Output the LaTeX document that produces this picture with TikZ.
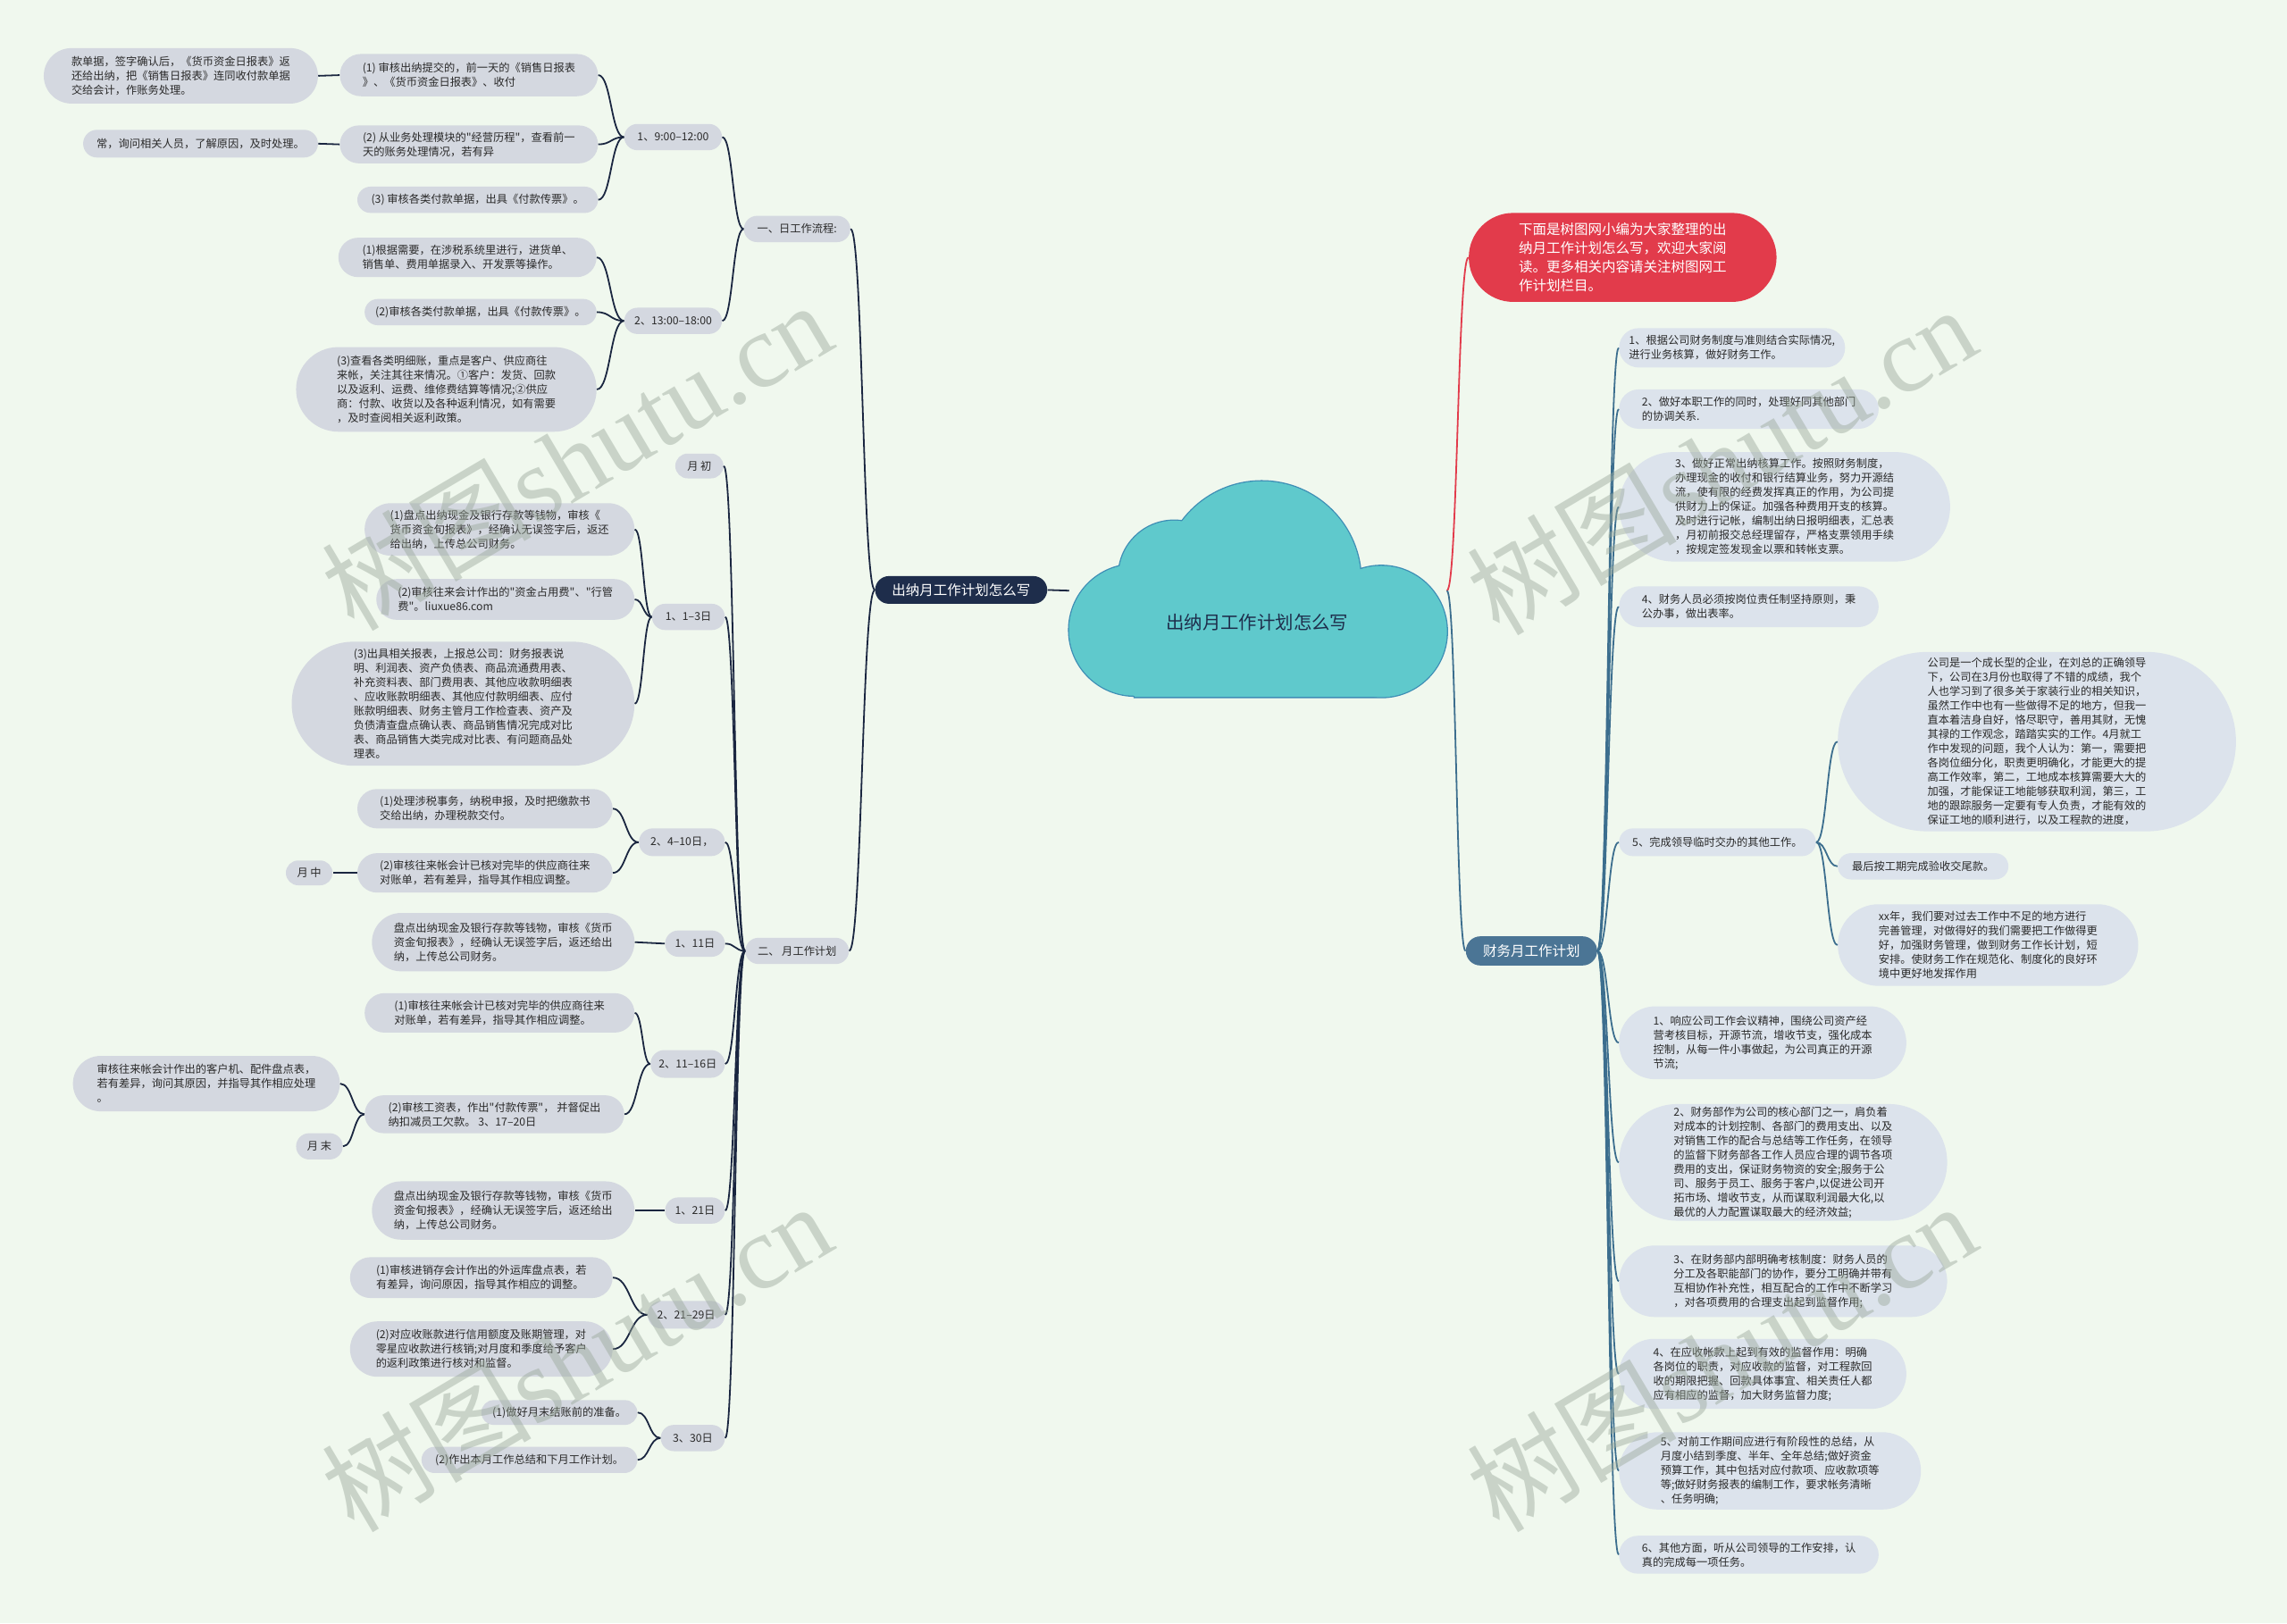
\documentclass[tikz,border=0pt]{standalone}
\usepackage{fontspec}
\newfontfamily\cjk{Noto Sans CJK SC}
\newfontfamily\wmserif{Liberation Serif}
\usetikzlibrary{calc}
\definecolor{bg}{HTML}{F0F8EE}
\definecolor{lgray}{HTML}{D4D8E0}
\definecolor{rgray}{HTML}{DCE3EC}
\definecolor{navy}{HTML}{1E2D4B}
\definecolor{steel}{HTML}{4B7595}
\definecolor{redn}{HTML}{E23B4B}
\definecolor{tealc}{HTML}{5FC9CC}
\definecolor{cborder}{HTML}{3E8EB5}
\definecolor{lline}{HTML}{1A2640}
\definecolor{rline}{HTML}{3C6E8E}
\definecolor{txt}{HTML}{2A2A2A}
\definecolor{wm}{HTML}{9AA89A}
\newcommand\bcurve[3][lk]{\draw[#1] let \p1=(#2), \p2=(#3) in (\p1) .. controls ({0.5*\x1+0.5*\x2},\y1) and ({0.5*\x1+0.5*\x2},\y2) .. (\p2);}
\begin{document}
\begin{tikzpicture}[x=1pt,y=-1pt,
 base/.style={font=\cjk\fontsize{7.5}{9.8}\selectfont, align=left, inner sep=0pt, text=txt},
 lb/.style 2 args={base, fill=lgray, minimum width=#1pt, minimum height=#2pt, rounded corners={#2*0.5pt}},
 rb/.style 2 args={base, fill=rgray, minimum width=#1pt, minimum height=#2pt, rounded corners={#2*0.5pt}},
 hb/.style 2 args={font=\cjk\fontsize{9.5}{13}\selectfont, align=left, inner sep=0pt, text=white, minimum width=#1pt, minimum height=#2pt, rounded corners={#2*0.5pt}},
 lk/.style={draw=lline, line width=1.1pt},
 rk/.style={draw=rline, line width=1.1pt},
 redk/.style={draw=redn, line width=1.1pt},
 wmark/.style={text=wm, opacity=0.45, rotate=30.6, inner sep=0pt}
]
\useasboundingbox (0,0) rectangle (1568,1113);
\fill[bg] (0,0) rectangle (1568,1113);

% cloud
\draw[cborder, line width=1.6pt] (778,432) circle[radius=45] (805,395) circle[radius=38] (865,398) circle[radius=68] (947,433) circle[radius=45] (778,430) rectangle (947,478);
\fill[tealc] (778,432) circle[radius=45];
\fill[tealc] (805,395) circle[radius=38];
\fill[tealc] (865,398) circle[radius=68];
\fill[tealc] (947,433) circle[radius=45];
\fill[tealc] (778,430) rectangle (947,478);
\node[font=\cjk\fontsize{12.5}{15}\selectfont, text=navy] (root) at (862,427) {出纳月工作计划怎么写};
\coordinate (cl) at (733,405);
\coordinate (cr) at (992,405);

% main nodes
\node[hb={118}{19}, fill=navy] (N0) at (659,404.5) {出纳月工作计划怎么写};
\node[hb={90}{20}, fill=steel] (N1) at (1050,652) {财务月工作计划};
\node[hb={211}{61}, fill=redn] (R0) at (1112.5,176.5) {下面是树图网小编为大家整理的出\\纳月工作计划怎么写，欢迎大家阅\\读。更多相关内容请关注树图网工\\作计划栏目。};

% left: daily
\node[lb={73}{18}] (D1) at (546.5,157) {一、日工作流程:};
\node[lb={67}{18}] (C1) at (461.5,94) {1、9:00–12:00};
\node[lb={67}{18}] (C2) at (461.5,220) {2、13:00–18:00};
\node[lb={177}{29}] (B1) at (321.5,51.5) {(1) 审核出纳提交的，前一天的《销售日报表\\》、《货币资金日报表》、收付};
\node[lb={188}{38}] (A1) at (124,52) {款单据，签字确认后，《货币资金日报表》返\\还给出纳，把《销售日报表》连同收付款单据\\交给会计，作账务处理。};
\node[lb={177}{26}] (B2) at (321.5,99) {(2) 从业务处理模块的"经营历程"，查看前一\\天的账务处理情况，若有异};
\node[lb={161}{19}] (A2) at (137.5,98.5) {常，询问相关人员，了解原因，及时处理。};
\node[lb={165}{18}] (B3) at (327.5,137) {(3) 审核各类付款单据，出具《付款传票》。};
\node[lb={177}{27}] (B4) at (320.5,176.5) {(1)根据需要，在涉税系统里进行，进货单、\\销售单、费用单据录入、开发票等操作。};
\node[lb={159}{18}] (B5) at (329.5,214) {(2)审核各类付款单据，出具《付款传票》。};
\node[lb={206}{58}] (B6) at (306,267) {(3)查看各类明细账，重点是客户、供应商往\\来帐，关注其往来情况。①客户：发货、回款\\以及返利、运费、维修费结算等情况;②供应\\商：付款、收货以及各种返利情况，如有需要\\，及时查阅相关返利政策。};

% left: monthly
\node[lb={71}{18}] (D2) at (546.5,652) {二、 月工作计划};
\node[lb={33}{17}] (M0) at (479.5,319.5) {月 初};
\node[lb={50}{18}] (C3) at (472,423) {1、1–3日};
\node[lb={185}{36}] (E1) at (342.5,363) {(1)盘点出纳现金及银行存款等钱物，审核《\\货币资金旬报表》，经确认无误签字后，返还\\给出纳，上传总公司财务。};
\node[lb={177}{28}] (E2) at (346.5,411) {(2)审核往来会计作出的"资金占用费"、"行管\\费"。liuxue86.com};
\node[lb={235}{85}] (E3) at (317.5,482.5) {(3)出具相关报表，上报总公司：财务报表说\\明、利润表、资产负债表、商品流通费用表、\\补充资料表、部门费用表、其他应收款明细表\\、应收账款明细表、其他应付款明细表、应付\\账款明细表、财务主管月工作检查表、资产及\\负债清查盘点确认表、商品销售情况完成对比\\表、商品销售大类完成对比表、有问题商品处\\理表。};
\node[lb={59}{19}] (C4) at (467.5,577.5) {2、4–10日，};
\node[lb={175}{27}] (E4) at (332.5,554.5) {(1)处理涉税事务，纳税申报，及时把缴款书\\交给出纳，办理税款交付。};
\node[lb={175}{27}] (E5) at (332.5,598.5) {(2)审核往来帐会计已核对完毕的供应商往来\\对账单，若有差异，指导其作相应调整。};
\node[lb={32}{17}] (L1) at (212,598.5) {月 中};
\node[lb={41}{18}] (C5) at (476.5,647) {1、11日};
\node[lb={180}{40}] (E6) at (345,646) {盘点出纳现金及银行存款等钱物，审核《货币\\资金旬报表》，经确认无误签字后，返还给出\\纳，上传总公司财务。};
\node[lb={51}{19}] (C6) at (471.5,729.5) {2、11–16日};
\node[lb={185}{27}] (E7) at (342.5,694.5) {(1)审核往来帐会计已核对完毕的供应商往来\\对账单，若有差异，指导其作相应调整。};
\node[lb={178}{26}] (E8) at (339,764) {(2)审核工资表，作出"付款传票"， 并督促出\\纳扣减员工欠款。 3、17–20日};
\node[lb={183}{38}] (L2) at (141.5,743) {审核往来帐会计作出的客户机、配件盘点表，\\若有差异，询问其原因，并指导其作相应处理\\。};
\node[lb={32}{18}] (L3) at (219,786) {月 末};
\node[lb={41}{18}] (C7) at (476.5,830) {1、21日};
\node[lb={180}{40}] (E9) at (345,830) {盘点出纳现金及银行存款等钱物，审核《货币\\资金旬报表》，经确认无误签字后，返还给出\\纳，上传总公司财务。};
\node[lb={53}{19}] (C8) at (470.5,901.5) {2、21–29日};
\node[lb={180}{28}] (E10) at (330,876) {(1)审核进销存会计作出的外运库盘点表，若\\有差异，询问原因，指导其作相应的调整。};
\node[lb={180}{38}] (E11) at (330,925) {(2)对应收账款进行信用额度及账期管理，对\\零星应收款进行核销;对月度和季度给予客户\\的返利政策进行核对和监督。};
\node[lb={44}{18}] (C9) at (475,986) {3、30日};
\node[lb={107}{17}] (E12) at (383.5,968.5) {(1)做好月末结账前的准备。};
\node[lb={148}{18}] (E13) at (363,1001) {(2)作出本月工作总结和下月工作计划。};

% right
\node[rb={155}{27}] (F1) at (1187.5,238.5) {1、根据公司财务制度与准则结合实际情况,\\进行业务核算，做好财务工作。};
\node[rb={178}{27}] (F2) at (1199,280.5) {2、做好本职工作的同时，处理好同其他部门\\的协调关系.};
\node[rb={227}{75}] (F3) at (1223.5,347.5) {3、做好正常出纳核算工作。按照财务制度，\\办理现金的收付和银行结算业务，努力开源结\\流，使有限的经费发挥真正的作用，为公司提\\供财力上的保证。加强各种费用开支的核算。\\及时进行记帐，编制出纳日报明细表，汇总表\\，月初前报交总经理留存，严格支票领用手续\\，按规定签发现金以票和转帐支票。};
\node[rb={178}{28}] (F4) at (1199,416) {4、财务人员必须按岗位责任制坚持原则，秉\\公办事，做出表率。};
\node[rb={135}{19}] (F5) at (1177.5,577.5) {5、完成领导临时交办的其他工作。};
\node[rb={273}{123}] (G1) at (1396.5,508.5) {公司是一个成长型的企业，在刘总的正确领导\\下，公司在3月份也取得了不错的成绩，我个\\人也学习到了很多关于家装行业的相关知识，\\虽然工作中也有一些做得不足的地方，但我一\\直本着洁身自好，恪尽职守，善用其财，无愧\\其禄的工作观念，踏踏实实的工作。4月就工\\作中发现的问题，我个人认为：第一，需要把\\各岗位细分化，职责更明确化，才能更大的提\\高工作效率，第二，工地成本核算需要大大的\\加强，才能保证工地能够获取利润，第三，工\\地的跟踪服务一定要有专人负责，才能有效的\\保证工地的顺利进行，以及工程款的进度，};
\node[rb={117}{18}] (G2) at (1318.5,594) {最后按工期完成验收交尾款。};
\node[rb={206}{56}] (G3) at (1363,648) {xx年，我们要对过去工作中不足的地方进行\\完善管理，对做得好的我们需要把工作做得更\\好，加强财务管理，做到财务工作长计划，短\\安排。使财务工作在规范化、制度化的良好环\\境中更好地发挥作用};
\node[rb={197}{50}] (F6) at (1208.5,715) {1、响应公司工作会议精神，围绕公司资产经\\营考核目标，开源节流，增收节支，强化成本\\控制，从每一件小事做起，为公司真正的开源\\节流;};
\node[rb={225}{80}] (F7) at (1222.5,797) {2、财务部作为公司的核心部门之一，肩负着\\对成本的计划控制、各部门的费用支出、以及\\对销售工作的配合与总结等工作任务，在领导\\的监督下财务部各工作人员应合理的调节各项\\费用的支出，保证财务物资的安全;服务于公\\司、服务于员工、服务于客户,以促进公司开\\拓市场、增收节支，从而谋取利润最大化,以\\最优的人力配置谋取最大的经济效益;};
\node[rb={225}{49}] (F8) at (1222.5,878.5) {3、在财务部内部明确考核制度：财务人员的\\分工及各职能部门的协作，要分工明确并带有\\互相协作补充性，相互配合的工作中不断学习\\，对各项费用的合理支出起到监督作用;};
\node[rb={197}{48}] (F9) at (1208.5,942) {4、在应收帐款上起到有效的监督作用：明确\\各岗位的职责，对应收款的监督，对工程款回\\收的期限把握、回款具体事宜、相关责任人都\\应有相应的监督，加大财务监督力度;};
\node[rb={207}{53}] (F10) at (1213.5,1008.5) {5、对前工作期间应进行有阶段性的总结，从\\月度小结到季度、半年、全年总结;做好资金\\预算工作，其中包括对应付款项、应收款项等\\等;做好财务报表的编制工作，要求帐务清晰\\、任务明确;};
\node[rb={178}{26}] (F11) at (1199,1066) {6、其他方面，听从公司领导的工作安排，认\\真的完成每一项任务。};

% connectors: center
\draw[lk] (cl) -- (N0.east);
\bcurve[redk]{cr}{R0.west}
\bcurve[rk]{cr}{N1.west}
% left trunk
\bcurve{N0.west}{D1.east}
\bcurve{N0.west}{D2.east}
\bcurve{D1.west}{C1.east}
\bcurve{D1.west}{C2.east}
\bcurve{C1.west}{B1.east}
\bcurve{C1.west}{B2.east}
\bcurve{C1.west}{B3.east}
\draw[lk] (B1.west) -- (A1.east);
\draw[lk] (B2.west) -- (A2.east);
\bcurve{C2.west}{B4.east}
\bcurve{C2.west}{B5.east}
\bcurve{C2.west}{B6.east}
\foreach \c in {M0,C3,C4,C5,C6,C7,C8,C9}{\bcurve{D2.west}{\c.east}}
\bcurve{C3.west}{E1.east}
\bcurve{C3.west}{E2.east}
\bcurve{C3.west}{E3.east}
\bcurve{C4.west}{E4.east}
\bcurve{C4.west}{E5.east}
\draw[lk] (E5.west) -- (L1.east);
\draw[lk] (C5.west) -- (E6.east);
\bcurve{C6.west}{E7.east}
\bcurve{C6.west}{E8.east}
\bcurve{E8.west}{L2.east}
\bcurve{E8.west}{L3.east}
\draw[lk] (C7.west) -- (E9.east);
\bcurve{C8.west}{E10.east}
\bcurve{C8.west}{E11.east}
\bcurve{C9.west}{E12.east}
\bcurve{C9.west}{E13.east}
% right
\foreach \f in {F1,F2,F3,F4,F5,F6,F7,F8,F9,F10,F11}{\bcurve[rk]{N1.east}{\f.west}}
\bcurve[rk]{F5.east}{G1.west}
\bcurve[rk]{F5.east}{G2.west}
\bcurve[rk]{F5.east}{G3.west}

% watermarks
\node[wmark] (wm1) at (395,312) {\cjk\fontsize{72}{72}\selectfont 树图\wmserif shutu.cn};
\node[wmark] (wm2) at (1180,315) {\cjk\fontsize{72}{72}\selectfont 树图\wmserif shutu.cn};
\node[wmark] (wm3) at (395,930) {\cjk\fontsize{72}{72}\selectfont 树图\wmserif shutu.cn};
\node[wmark] (wm4) at (1180,930) {\cjk\fontsize{72}{72}\selectfont 树图\wmserif shutu.cn};
\end{tikzpicture}
\end{document}
